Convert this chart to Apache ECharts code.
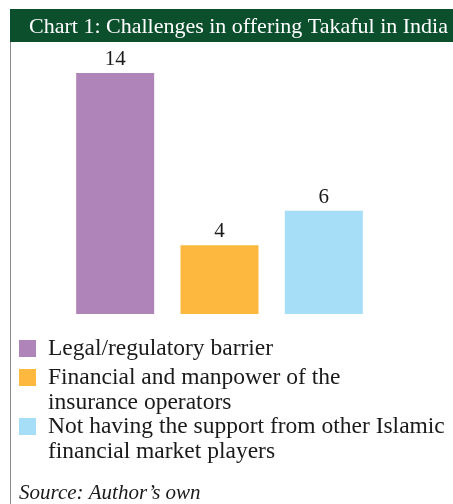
<!DOCTYPE html>
<html><head><meta charset="utf-8">
<script src="https://cdn.jsdelivr.net/npm/echarts@6/dist/echarts.min.js"></script>
<style>html,body{margin:0;padding:0;background:#fff}#c{width:453px;height:504px}</style>
</head><body><div id="c"></div>
<script>
const titleText = 'Chart 1: Challenges in offering Takaful in India';
const categories = ['Legal/regulatory barrier', 'Financial and manpower of the\ninsurance operators', 'Not having the support from other Islamic\nfinancial market players'];
const values = [14, 4, 6];
const colors = ['#af84b8', '#fdb840', '#a6def7'];
const sourceText = 'Source: Author\u2019s own';

const FONT = '"Liberation Serif", "DejaVu Serif", serif';
const iconTops = [340, 369, 418];

const chart = echarts.init(document.getElementById('c'), null, {renderer: 'canvas'});
chart.setOption({
  animation: false,
  title: {
    text: titleText, left: 29, top: 16, padding: 0,
    textStyle: {color: '#ffffff', fontFamily: FONT, fontWeight: 'normal', fontSize: 22}
  },
  graphic: [
    {type: 'rect', left: 10, top: 9, z: -1, shape: {width: 443, height: 33}, style: {fill: '#0b4f2d'}},
    {type: 'line', shape: {x1: 10.5, y1: 42, x2: 10.5, y2: 504}, style: {stroke: '#8a8a8a', lineWidth: 1}},
    {type: 'text', left: 19, top: 483, style: {text: sourceText, fill: '#1a1a1a', font: 'italic 21px ' + FONT}}
  ],
  legend: categories.map((c, i) => {
    const multi = c.indexOf('\n') >= 0;
    return {
      data: [c], orient: 'vertical', left: 19, top: iconTops[i] - (multi ? 29 : 4), padding: 0,
      itemWidth: 17, itemHeight: 17, icon: 'rect', selectedMode: false,
      formatter: name => multi ? '\n' + name : name,
      textStyle: {fontFamily: FONT, fontSize: 23.5, color: '#1a1a1a', lineHeight: 25, padding: [0, 0, 0, 7]}
    };
  }),
  grid: {left: 63, width: 313, top: 73, height: 241},
  xAxis: {type: 'category', data: categories, show: false},
  yAxis: {type: 'value', min: 0, max: 14, show: false},
  series: categories.map((c, i) => ({
    name: c, type: 'bar', barWidth: 78, barGap: '-100%',
    itemStyle: {color: colors[i]},
    data: categories.map((_, j) => j === i ? values[i] : '-'),
    label: {show: true, position: 'top', distance: 3, color: '#1a1a1a', fontFamily: FONT, fontSize: 21}
  }))
});
</script></body></html>
